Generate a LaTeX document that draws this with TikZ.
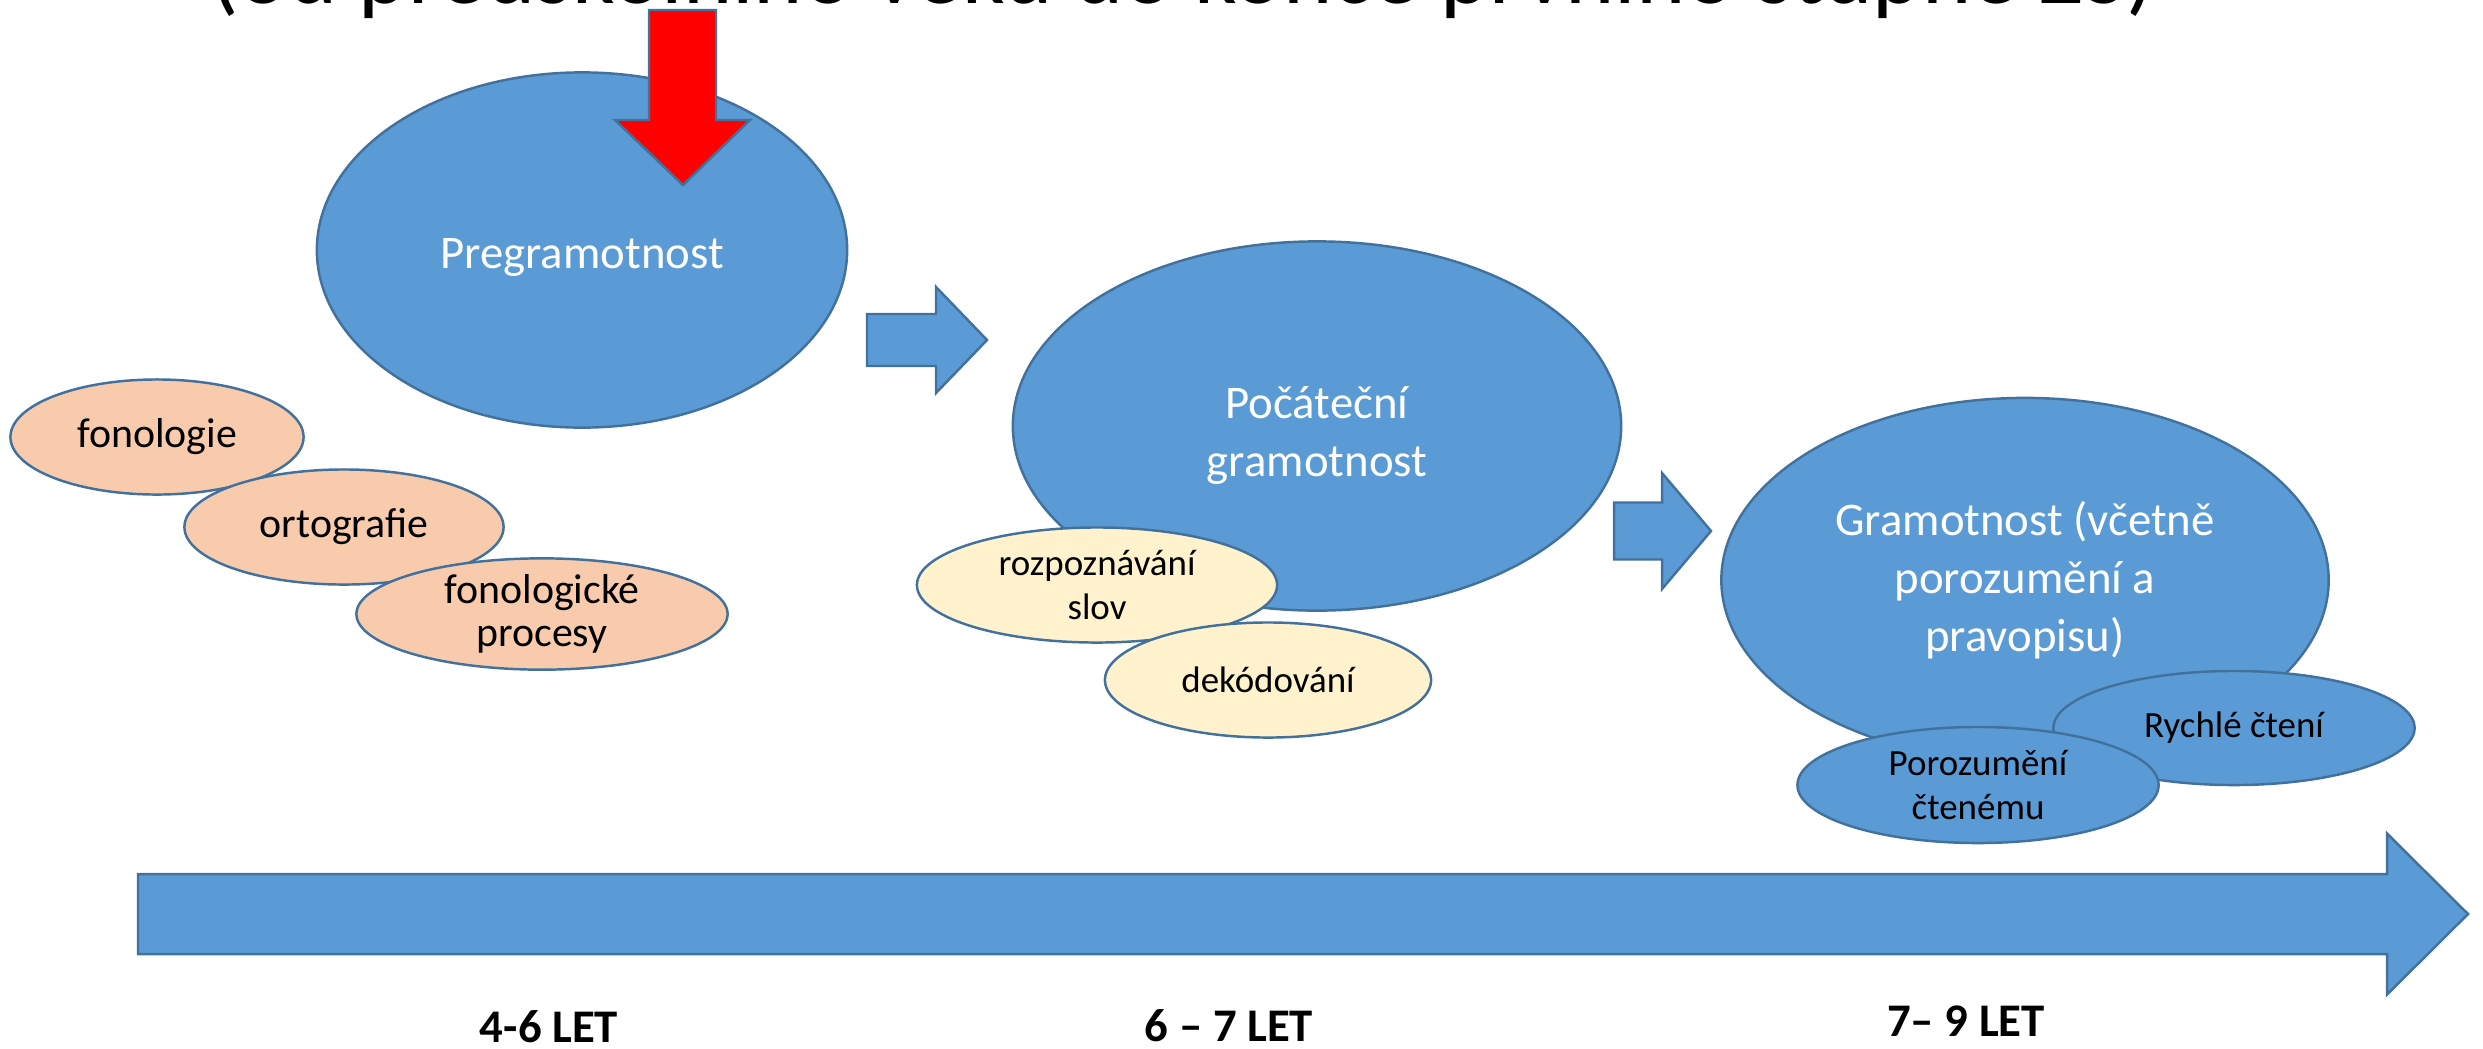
\documentclass[tikz,border=0pt]{standalone}
\usepackage{fontspec}
\setmainfont{Carlito}
\usepackage{tikz}
\usetikzlibrary{shapes.geometric}
\definecolor{stageBlue}{HTML}{5B9BD5}
\definecolor{edgeBlue}{HTML}{41719C}
\definecolor{skillPeach}{HTML}{F8CBAD}
\definecolor{skillCream}{HTML}{FFF2CC}
\definecolor{alertRed}{HTML}{FF0000}
% tail x, head x, tip x, middle y, half shaft, half head
\newcommand{\DrawArrowRight}[6]{
    \draw[blockArrow] (#1,#4-#5) -- (#2,#4-#5) -- (#2,#4-#6) -- (#3,#4)
        -- (#2,#4+#6) -- (#2,#4+#5) -- (#1,#4+#5) -- cycle;
}
\tikzset{
    % Common
    slidePic/.style={x=0.01cm, y=-0.01cm},
    blockArrow/.style={draw=edgeBlue, fill=stageBlue, line width=0.7pt},
    redArrow/.style={draw=edgeBlue, fill=alertRed, line width=0.7pt},
    titleText/.style={anchor=base, font=\fontsize{26.7}{32}\selectfont},
    ageLabel/.style={anchor=base, font=\fontsize{13.3}{16}\selectfont\bfseries},
    % Stage ellipses
    stageBig/.style={ellipse, draw=edgeBlue, fill=stageBlue, line width=0.7pt, inner sep=0pt},
    stageText/.style={text=white, align=center, inner sep=0pt, font=\fontsize{13.3}{16.5}\selectfont},
    % Skill ellipses
    skillLeft/.style={ellipse, draw=edgeBlue, fill=skillPeach, line width=0.7pt,
        inner sep=0pt, align=center, font=\fontsize{11.9}{12.2}\selectfont},
    skillMid/.style={ellipse, draw=edgeBlue, fill=skillCream, line width=0.7pt,
        inner sep=0pt, align=center, font=\fontsize{10.5}{12.5}\selectfont},
    skillRight/.style={ellipse, draw=edgeBlue, fill=stageBlue, line width=0.7pt,
        inner sep=0pt, align=center, font=\fontsize{10.5}{12.5}\selectfont}
}

\begin{document}
\begin{tikzpicture}[slidePic]
    \clip (0,0) rectangle (2483,1048);

    % Title (cut off)
    \node[titleText] (title) at (1183,3) {(od předškolního věku do konce prvního stupně ZŠ)};

    % Stage 1
    \node[stageBig, minimum width=5.30cm, minimum height=3.55cm] (preg) at (582,250) {};
    \node[stageText] (pregText) at ([yshift=-0.07cm]preg.center) {Pregramotnost};
    \draw[redArrow] (649,10) -- (716,10) -- (716,120) -- (750,120) -- (683,185)
        -- (615,120) -- (649,120) -- cycle;
    \node[skillLeft, minimum width=2.93cm, minimum height=1.15cm] (fono) at (157,437) {fonologie};
    \node[skillLeft, minimum width=3.19cm, minimum height=1.15cm] (orto) at (344,527) {ortografie};
    \node[skillLeft, minimum width=3.71cm, minimum height=1.08cm] (proc) at (542,614) {fonologické\\procesy};

    \DrawArrowRight{867}{936}{987}{340}{26}{53}

    % Stage 2
    \node[stageBig, minimum width=6.08cm, minimum height=3.69cm] (poc) at (1317,426) {};
    \node[stageText] (pocText) at ([yshift=-0.1cm]poc.center) {Počáteční\\gramotnost};
    \node[skillMid, minimum width=3.60cm, minimum height=1.15cm] (rozp) at (1097,585) {rozpoznávání\\slov};
    \node[skillMid, minimum width=3.26cm, minimum height=1.15cm] (dek) at (1268,680) {dekódování};

    \DrawArrowRight{1614}{1662}{1711}{531}{28.5}{58}

    % Stage 3
    \node[stageBig, minimum width=6.07cm, minimum height=3.64cm] (gram) at (2025,580) {};
    \node[stageText] (gramText) at (gram.center) {Gramotnost (včetně\\porozumění a\\pravopisu)};
    \node[skillRight, minimum width=3.61cm, minimum height=1.14cm] (rych) at (2234,728) {Rychlé čtení};
    \node[skillRight, minimum width=3.61cm, minimum height=1.16cm] (poroz) at (1978,785) {Porozumění\\čtenému};

    % Time line
    \DrawArrowRight{138}{2387}{2468}{914}{40}{80.5}
    \node[ageLabel] (age1) at (549,1042) {4-6 LET};
    \node[ageLabel] (age2) at (1229,1041) {6 – 7 LET};
    \node[ageLabel] (age3) at (1966,1036) {7– 9 LET};
\end{tikzpicture}
\end{document}
